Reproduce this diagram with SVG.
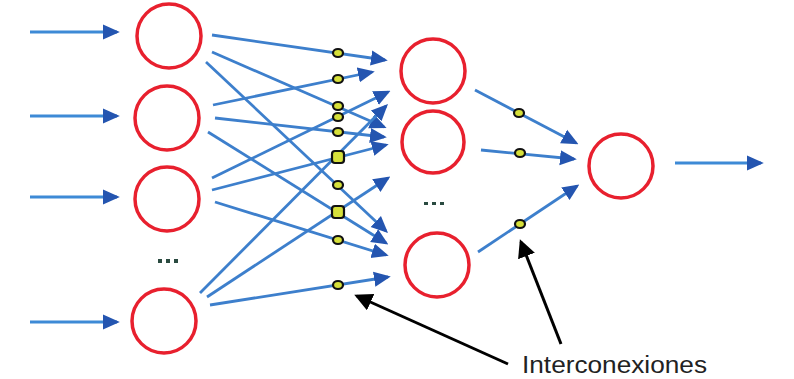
<svg xmlns="http://www.w3.org/2000/svg" width="794" height="379" viewBox="0 0 794 379">
<defs>
<style>
.node{fill:none;stroke:#e8202e;stroke-width:3.5}
.link{stroke:#3d7fcc;stroke-width:2.8;fill:none;marker-end:url(#bh)}
.io{stroke:#3d8ad6;stroke-width:2.8;fill:none;marker-end:url(#bh)}
.mk{fill:#d6e03a;stroke:#111;stroke-width:2.2}
.ptr{stroke:#000;stroke-width:3;fill:none;marker-end:url(#kh)}
.dot{fill:#2a4a40}
.lbl{font-family:"Liberation Sans",Arial,sans-serif;font-size:23px;fill:#222}
</style>
<marker id="bh" markerWidth="6" markerHeight="6" refX="5" refY="3" orient="auto" markerUnits="strokeWidth">
<path d="M0,0.3 L6,3 L0,5.7 Z" fill="#2455b0"/>
</marker>
<marker id="kh" markerWidth="6" markerHeight="6" refX="5" refY="3" orient="auto" markerUnits="strokeWidth">
<path d="M0,0 L6,3 L0,6 Z" fill="#000"/>
</marker>
</defs>
<rect width="794" height="379" fill="#fff"/>
<g id="connectors">
<line class="io" x1="30" y1="32" x2="117" y2="32"/>
<line class="io" x1="30" y1="116" x2="117" y2="116"/>
<line class="io" x1="30" y1="197" x2="117" y2="197"/>
<line class="io" x1="30" y1="322" x2="117" y2="322"/>
<line class="io" x1="675" y1="163" x2="761" y2="163"/>
<line class="link" x1="212" y1="35" x2="385" y2="60"/>
<line class="link" x1="212" y1="52" x2="384" y2="127"/>
<line class="link" x1="206" y1="62" x2="386" y2="231"/>
<line class="link" x1="213" y1="105" x2="372" y2="72"/>
<line class="link" x1="215" y1="118" x2="384" y2="137"/>
<line class="link" x1="208" y1="132" x2="386" y2="243"/>
<line class="link" x1="212" y1="178" x2="388" y2="92"/>
<line class="link" x1="212" y1="190" x2="386" y2="145"/>
<line class="link" x1="215" y1="202" x2="386" y2="255"/>
<line class="link" x1="200" y1="293" x2="386" y2="106"/>
<line class="link" x1="207" y1="297" x2="388" y2="178"/>
<line class="link" x1="210" y1="305" x2="388" y2="277"/>
<line class="link" x1="475" y1="90" x2="576" y2="143"/>
<line class="link" x1="481" y1="150" x2="574" y2="159"/>
<line class="link" x1="478" y1="252" x2="577" y2="186"/>
<line class="ptr" x1="508" y1="364" x2="357" y2="296"/>
<line class="ptr" x1="561" y1="344" x2="521" y2="242"/>
</g>
<g id="markers">
<ellipse class="mk" cx="338" cy="53" rx="5" ry="4"/>
<ellipse class="mk" cx="338" cy="79" rx="5" ry="4"/>
<ellipse class="mk" cx="338" cy="106" rx="5" ry="4"/>
<ellipse class="mk" cx="338" cy="117" rx="5" ry="4"/>
<ellipse class="mk" cx="338" cy="132" rx="5" ry="4"/>
<rect class="mk" x="332" y="151" width="12" height="12" rx="3"/>
<ellipse class="mk" cx="338" cy="185" rx="5" ry="4"/>
<rect class="mk" x="332" y="206" width="12" height="12" rx="3"/>
<ellipse class="mk" cx="338" cy="240" rx="5" ry="4"/>
<ellipse class="mk" cx="338" cy="285" rx="5" ry="4"/>
<ellipse class="mk" cx="519" cy="113" rx="5" ry="4"/>
<ellipse class="mk" cx="520" cy="153" rx="5" ry="4"/>
<ellipse class="mk" cx="520" cy="224" rx="5" ry="4"/>
</g>
<g id="input1"><circle class="node" cx="169" cy="36" r="32"/></g>
<g id="input2"><circle class="node" cx="167" cy="118" r="32"/></g>
<g id="input3"><circle class="node" cx="167" cy="199" r="32"/></g>
<g id="input4"><circle class="node" cx="164" cy="321" r="32"/></g>
<g id="input-ellipsis">
<rect class="dot" x="158" y="259" width="4" height="4"/>
<rect class="dot" x="166" y="259" width="4" height="4"/>
<rect class="dot" x="174" y="259" width="4" height="4"/>
</g>
<g id="hidden1"><circle class="node" cx="433" cy="71" r="32"/></g>
<g id="hidden2"><circle class="node" cx="433" cy="142" r="31"/></g>
<g id="hidden3"><circle class="node" cx="437" cy="265" r="32"/></g>
<g id="hidden-ellipsis">
<rect class="dot" x="424" y="202" width="4" height="3"/>
<rect class="dot" x="432" y="202" width="4" height="3"/>
<rect class="dot" x="440" y="202" width="4" height="3"/>
</g>
<g id="output"><circle class="node" cx="621" cy="166" r="32"/></g>
<g id="label">
<rect x="515" y="345" width="206" height="34" fill="#fff"/>
<text class="lbl" x="522" y="373" textLength="185" lengthAdjust="spacingAndGlyphs">Interconexiones</text>
</g>
</svg>
